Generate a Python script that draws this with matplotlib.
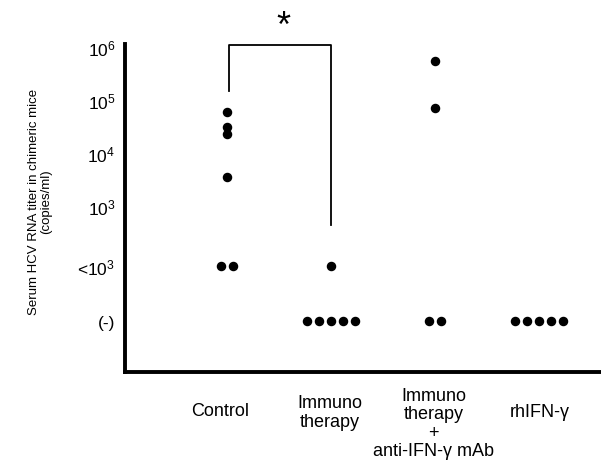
import numpy as np
import matplotlib
matplotlib.use("Agg")
from matplotlib import pyplot as plt

plt.rcParams['font.family'] = ['Liberation Sans', 'DejaVu Sans']
plt.rcParams['mathtext.fontset'] = 'custom'
plt.rcParams['mathtext.rm'] = 'Liberation Sans'

# groups and titers (log10 copies/ml); "lt" = <10^3, "neg" = (-)
groups = ["Control", "Immuno\ntherapy", "Immuno\ntherapy\n+\nanti-IFN-\u03b3 mAb", "rhIFN-\u03b3"]
control = [4.77, 4.49, 4.36, 3.55, "lt", "lt"]
immuno = ["lt", "neg", "neg", "neg", "neg", "neg"]
immuno_anti = [5.74, 4.85, "neg", "neg"]
rhifn = ["neg", "neg", "neg", "neg", "neg"]
series = [control, immuno, immuno_anti, rhifn]

ytick_pos = [6, 5, 4, 3, 1.87, 0.83]
ytick_lab = [r"$\mathregular{10^6}$", r"$\mathregular{10^5}$", r"$\mathregular{10^4}$",
             r"$\mathregular{10^3}$", r"<$\mathregular{10^3}$", "(-)"]
cat_pos = {"lt": 1.87, "neg": 0.83}

fig = plt.figure(figsize=(6.01, 4.64), dpi=100)
ax = fig.add_axes([125/601, 1-373/464, 1-125/601, (373-45)/464])

step = 0.115
for i, vals in enumerate(series):
    # numeric points on the centre, category rows spread sideways
    for v in vals:
        if not isinstance(v, str):
            ax.scatter(i, v, s=34, color='black', zorder=3)
    for key in ["lt", "neg"]:
        n = sum(1 for v in vals if v == key)
        if n:
            xs = i + (np.arange(n) - (n-1)/2) * step
            ax.scatter(xs, [cat_pos[key]]*n, s=34, color='black', zorder=3)

ax.set_xlim(-0.98, 3.6)
ax.set_ylim(-0.13, 6.06)
ax.set_xticks([])
ax.set_yticks(ytick_pos)
ax.set_yticklabels(ytick_lab, fontsize=12.5)
ax.tick_params(axis='y', length=0, pad=7)
for s in ['top', 'right']:
    ax.spines[s].set_visible(False)
ax.spines['left'].set_linewidth(2.8)
ax.spines['bottom'].set_linewidth(2.8)

# significance bracket
ax.plot([0.02, 0.02, 1.0, 1.0], [5.17, 6.05, 6.05, 2.64], color='black', lw=1.3, clip_on=False)
ax.text(0.54, 6.40, "*", ha='center', va='center', fontsize=26)

# group labels (y in figure pixels from the bottom)
lab_x = [-0.06, 0.99, 1.99, 3.01]
lab_y = [52, 51, 40, 51]
for g, x, y in zip(groups, lab_x, lab_y):
    ax.annotate(g, (x, y), xycoords=('data', 'figure pixels'), ha='center', va='center',
                fontsize=13, linespacing=1.08, annotation_clip=False)

fig.text(40/601, 1-202/464, "Serum HCV RNA titer in chimeric mice\n(copies/ml)",
         rotation=90, ha='center', va='center', fontsize=9.5, linespacing=1.1)

fig.savefig("out.png", dpi=100)
